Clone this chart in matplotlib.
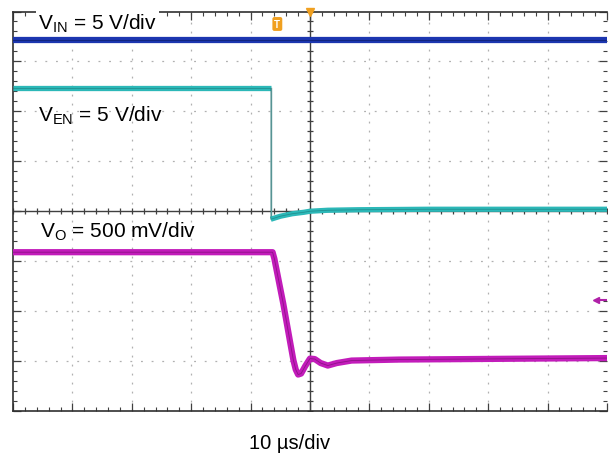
import numpy as np
import matplotlib.pyplot as plt

plt.rcParams['font.family'] = ['Liberation Sans', 'DejaVu Sans']
plt.rcParams['mathtext.default'] = 'regular'

# trace data in divisions (10 us/div horizontally)
vin_t = [-5.0, 5.0]
vin_v = [3.43, 3.43]

ven_t = [-5.0, -0.66, -0.66, -0.5, -0.3, -0.1, 0.0, 0.3, 0.8, 2.0, 5.0]
ven_v = [2.46, 2.46, -0.16, -0.10, -0.05, -0.02, 0.0, 0.02, 0.03, 0.04, 0.04]

vo_t = [-5.0, -0.63, -0.60, -0.45, -0.33, -0.28, -0.24, -0.20, -0.15, -0.08,
        0.0, 0.08, 0.18, 0.30, 0.45, 0.70, 1.5, 5.0]
vo_v = [-0.82, -0.82, -0.95, -1.85, -2.65, -2.98, -3.17, -3.27, -3.25, -3.10,
        -2.95, -2.96, -3.04, -3.09, -3.04, -2.99, -2.97, -2.94]

labels = ['V$_{IN}$ = 5 V/div', 'V$_{EN}$ = 5 V/div', 'V$_{O}$ = 500 mV/div']
xlabel = '10 µs/div'

fig = plt.figure(figsize=(6.11, 4.56), dpi=100)
ax = fig.add_axes([13 / 611, 44 / 456, 594 / 611, 399.5 / 456])
ax.set_xlim(-5, 5)
ax.set_ylim(-4, 4)

# graticule
for x in range(-4, 5):
    if x != 0:
        ax.axvline(x, color='#b0b0b0', lw=0.9, dashes=(1.5, 5.7), zorder=1)
for y in range(-3, 4):
    if y != 0:
        ax.axhline(y, color='#b0b0b0', lw=0.9, dashes=(1.5, 7.0), zorder=1)
ax.axhline(0, color='#404040', lw=1.0, zorder=1.5)
ax.axvline(0, color='#404040', lw=1.0, zorder=1.5)
ax.plot(np.arange(-5, 5.01, 0.2), np.zeros(51), ls='none', marker='|',
        ms=5, color='#404040', mew=0.9, zorder=1.5)
ax.plot(np.zeros(41), np.arange(-4, 4.01, 0.2), ls='none', marker='_',
        ms=5, color='#404040', mew=0.9, zorder=1.5)

ax.set_xticks(range(-5, 6))
ax.set_yticks(range(-4, 5))
ax.set_xticks(np.arange(-5, 5.01, 0.2), minor=True)
ax.set_yticks(np.arange(-4, 4.01, 0.2), minor=True)
ax.tick_params(which='both', direction='in', top=True, right=True,
               labelbottom=False, labelleft=False, color='#404040')
ax.tick_params(which='major', length=6, width=0.9)
ax.tick_params(which='minor', length=3, width=0.8)
for s in ['left', 'top', 'bottom']:
    ax.spines[s].set_color('#303030')
    ax.spines[s].set_linewidth(1.2)
ax.spines['right'].set_visible(False)

# traces
ax.plot(vin_t, vin_v, color='#1c36b0', lw=4.5, solid_capstyle='butt', zorder=3)
ax.plot(vin_t, vin_v, color='#0c1a60', lw=0.8, alpha=0.6, zorder=3.1)

ax.plot(ven_t[:2], ven_v[:2], color='#2cb8b8', lw=3.8, solid_capstyle='butt', zorder=3)
ax.plot(ven_t[1:3], ven_v[1:3], color='#5f9a9a', lw=1.0, zorder=3)
ax.plot(ven_t[2:], ven_v[2:], color='#2cb8b8', lw=3.8, solid_capstyle='butt', zorder=3)
ax.plot(ven_t, ven_v, color='#176a6a', lw=0.6, alpha=0.5, zorder=3.1)

ax.plot(vo_t, vo_v, color='#c21cba', lw=4.5, solid_capstyle='butt', zorder=3)
ax.plot(vo_t, vo_v, color='#5a0a55', lw=0.6, alpha=0.5, zorder=3.1)

# channel labels
box = dict(facecolor='white', edgecolor='none', pad=1.5)
ax.text(-4.58, 3.66, labels[0], fontsize=15, va='baseline', bbox=box,
        zorder=4, clip_on=False)
ax.text(-4.58, 1.82, labels[1], fontsize=15, va='baseline', zorder=4)
ax.text(-4.55, -0.50, labels[2], fontsize=15, va='baseline', zorder=4)

# scope markers
ax.plot([0], [4.0], marker='v', ms=6, color='#f0a020', clip_on=False, zorder=5)
ax.text(-0.55, 3.75, 'T', fontsize=7, color='white', ha='center', va='center',
        fontweight='bold', zorder=5,
        bbox=dict(facecolor='#f0a020', edgecolor='none', boxstyle='round,pad=0.2'))
ax.plot([4.82], [-1.78], marker='<', ms=5, color='#b020a8', zorder=5)
ax.plot([4.9, 4.98], [-1.78, -1.78], color='#b020a8', lw=1.5, zorder=5)

fig.text(290 / 611, 7 / 456, xlabel, fontsize=14.5, ha='center', va='baseline')

fig.savefig('out.png', dpi=100)
